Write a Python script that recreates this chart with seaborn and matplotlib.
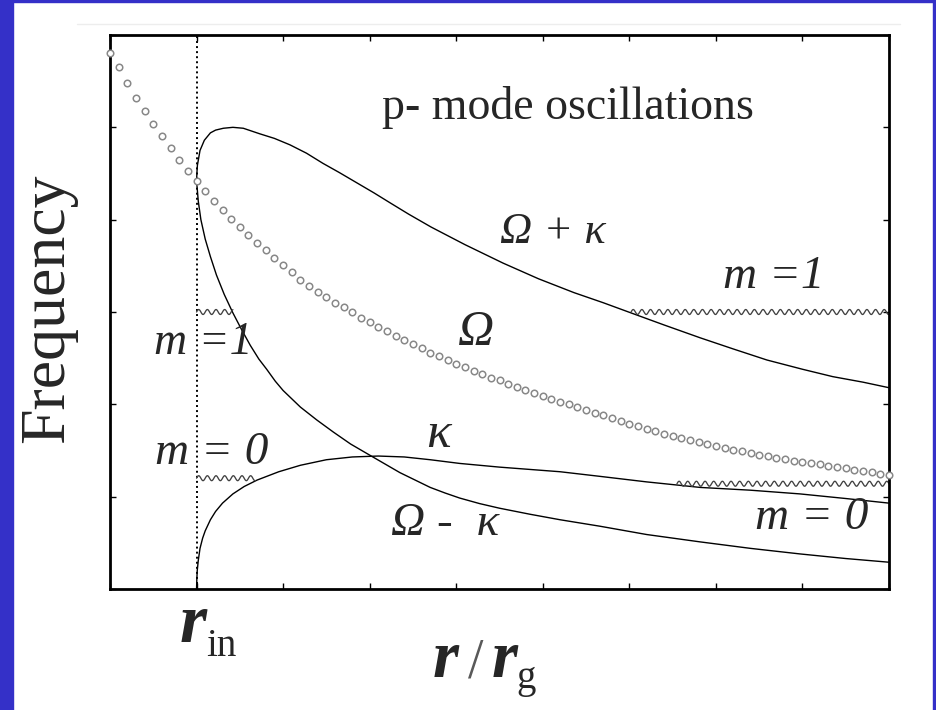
import numpy as np
import pandas as pd
import matplotlib
matplotlib.use("Agg")
import matplotlib.pyplot as plt
from matplotlib.lines import Line2D
from matplotlib.patches import Rectangle
import seaborn as sns

# ---- data (radius in units of the tick spacing, frequency in arbitrary units) ----
r_in = 1.0
x_ticks = [0, 1, 2, 3, 4, 5, 6, 7, 8, 9]
y_ticks = [0, 1, 2, 3, 4, 5, 6]

# orbital frequency Omega, one sample every 0.1 in r
omega_r = np.round(np.arange(91) * 0.1, 1)
omega = [5.80, 5.65, 5.48, 5.32, 5.18, 5.04, 4.91, 4.78, 4.65, 4.53,
         4.42, 4.31, 4.20, 4.10, 4.01, 3.92, 3.83, 3.75, 3.67, 3.59,
         3.51, 3.43, 3.35, 3.28, 3.22, 3.16, 3.10, 3.05, 3.00, 2.94,
         2.89, 2.84, 2.79, 2.74, 2.70, 2.65, 2.61, 2.56, 2.52, 2.48,
         2.44, 2.40, 2.36, 2.33, 2.29, 2.26, 2.22, 2.19, 2.16, 2.12,
         2.09, 2.06, 2.03, 2.00, 1.97, 1.94, 1.91, 1.88, 1.85, 1.82,
         1.79, 1.76, 1.73, 1.71, 1.68, 1.66, 1.63, 1.61, 1.59, 1.57,
         1.55, 1.53, 1.51, 1.49, 1.47, 1.45, 1.44, 1.42, 1.41, 1.39,
         1.38, 1.36, 1.35, 1.33, 1.32, 1.31, 1.29, 1.28, 1.27, 1.25,
         1.24]

# Omega + kappa
opk_r = [1.00, 1.005, 1.01, 1.04, 1.09, 1.16, 1.22, 1.31, 1.42, 1.54, 1.73,
         1.90, 2.08, 2.27, 2.46, 2.65, 2.85, 3.05, 3.24, 3.45, 3.71, 4.10,
         4.54, 4.95, 5.36, 5.70, 6.02, 6.40, 6.82, 7.20, 7.59, 8.00, 8.35,
         8.70, 9.00]
opk = [4.42, 4.52, 4.59, 4.75, 4.86, 4.94, 4.97, 4.99, 5.00, 4.99, 4.93,
       4.88, 4.81, 4.72, 4.61, 4.51, 4.40, 4.29, 4.18, 4.06, 3.92, 3.73,
       3.53, 3.36, 3.21, 3.10, 2.99, 2.86, 2.72, 2.60, 2.48, 2.38, 2.30,
       2.24, 2.18]

# Omega - kappa
omk_r = [1.00, 1.02, 1.05, 1.10, 1.16, 1.23, 1.32, 1.42, 1.52, 1.62, 1.72,
         1.81, 1.91, 2.00, 2.20, 2.39, 2.58, 2.78, 3.00, 3.35, 3.70, 3.87,
         4.04, 4.27, 4.50, 4.85, 5.20, 5.66, 6.20, 6.82, 7.40, 7.97, 8.50,
         9.00]
omk = [4.42, 4.20, 4.00, 3.79, 3.60, 3.40, 3.19, 2.99, 2.81, 2.64, 2.49,
       2.38, 2.25, 2.15, 1.97, 1.83, 1.70, 1.57, 1.45, 1.26, 1.10, 1.04,
       0.985, 0.925, 0.875, 0.81, 0.75, 0.68, 0.59, 0.51, 0.44, 0.38, 0.33,
       0.29]

# epicyclic frequency kappa
kap_r = [1.00, 1.003, 1.008, 1.02, 1.04, 1.07, 1.10, 1.16, 1.22, 1.30, 1.42,
         1.55, 1.70, 1.95, 2.20, 2.50, 2.80, 3.10, 3.40, 3.70, 4.04, 4.50,
         5.20, 5.66, 6.20, 6.82, 7.40, 7.97, 8.50, 9.00]
kap = [0.00, 0.10, 0.20, 0.31, 0.44, 0.55, 0.63, 0.75, 0.84, 0.93, 1.03,
       1.11, 1.18, 1.27, 1.34, 1.40, 1.43, 1.44, 1.43, 1.40, 1.36, 1.32,
       1.27, 1.22, 1.16, 1.10, 1.07, 1.03, 0.98, 0.93]

# propagation regions of the modes: (level, r_start, r_end)
m1_inner = (3.00, 1.00, 1.42)
m1_outer = (3.00, 6.02, 9.00)
m0_inner = (1.20, 1.00, 1.68)
m0_outer = (1.14, 6.55, 9.00)

curves = pd.concat([
    pd.DataFrame({"r": opk_r, "f": opk, "curve": "opk"}),
    pd.DataFrame({"r": omk_r, "f": omk, "curve": "omk"}),
    pd.DataFrame({"r": kap_r, "f": kap, "curve": "kap"}),
], ignore_index=True)
dots = pd.DataFrame({"r": omega_r, "f": omega})

# ---- figure ----
sns.set_theme(style="white")
plt.rcParams["font.family"] = ["Liberation Serif", "DejaVu Serif"]

W, H = 936, 710
fig = plt.figure(figsize=(W / 100, H / 100), dpi=100)
fig.patch.set_facecolor("white")
blue = "#3430C8"
fig.add_artist(Rectangle((0, 0), 13 / W, 1, transform=fig.transFigure, color=blue, zorder=0))
fig.add_artist(Rectangle((933 / W, 0), 3 / W, 1, transform=fig.transFigure, color=blue, zorder=0))
fig.add_artist(Rectangle((0, 1 - 1.5 / H), 1, 1.5 / H, transform=fig.transFigure, color=blue, zorder=0))
fig.add_artist(Line2D([77 / W, 900 / W], [1 - 24 / H, 1 - 24 / H], transform=fig.transFigure,
                      color="#EDEDED", lw=1))

ax = fig.add_axes([110 / W, 1 - 589 / H, (889 - 110) / W, (589 - 35) / H])
ax.set_facecolor("white")

for name in ["opk", "omk", "kap"]:
    sub = curves[curves["curve"] == name]
    sns.lineplot(data=sub, x="r", y="f", sort=False, estimator=None,
                 color="black", lw=1.0, ax=ax)

sns.scatterplot(data=dots, x="r", y="f", marker="o", s=22, facecolor="white",
                edgecolor="#888888", linewidth=1.1, ax=ax, zorder=3, clip_on=False)

ax.axvline(r_in, color="black", lw=1.4, ls=(0, (1, 1.6)))


def wavy_hline(ax, level, x0, x1, period=0.1, amp=0.027):
    """Horizontal line at `level` drawn with a small wiggle, marking a propagation zone."""
    n = int(round((x1 - x0) / period * 16)) + 1
    xs = np.linspace(x0, x1, n)
    ys = level + amp * np.sin(2 * np.pi * (xs - x0) / period)
    ax.plot(xs, ys, color="0.25", lw=0.95)


for lvl, a, b in [m1_inner, m1_outer, m0_inner, m0_outer]:
    wavy_hline(ax, lvl, a, b)

ax.set_xlim(0, 9)
ax.set_ylim(0, 6)
ax.set_xticks(x_ticks)
ax.set_yticks(y_ticks)
ax.tick_params(direction="in", length=4, width=1, color="black",
               bottom=True, top=True, left=True, right=True,
               labelbottom=False, labelleft=False)
for sp in ax.spines.values():
    sp.set_color("black")
    sp.set_linewidth(2)
ax.set_xlabel("")
ax.set_ylabel("")

# ---- annotations ----
serif = "Liberation Serif"
ax.text(5.29, 5.22, "p- mode oscillations", fontsize=33, family=serif,
        ha="center", va="center")
ax.text(5.12, 3.87, "Ω + κ", fontsize=32, family=serif, style="italic",
        ha="center", va="center")
ax.text(7.67, 3.38, "m =1", fontsize=34, family=serif, style="italic",
        ha="center", va="center")
ax.text(1.08, 2.67, "m =1", fontsize=33, family=serif, style="italic",
        ha="center", va="center")
ax.text(4.23, 2.77, "Ω", fontsize=36, family=serif, style="italic",
        ha="center", va="center")
ax.text(1.17, 1.48, "m = 0", fontsize=34, family=serif, style="italic",
        ha="center", va="center")
ax.text(3.79, 1.67, "κ", fontsize=37, family=serif, style="italic",
        ha="center", va="center")
ax.text(3.87, 0.71, "Ω -  κ", fontsize=34, family=serif, style="italic",
        ha="center", va="center")
ax.text(8.11, 0.77, "m = 0", fontsize=34, family=serif, style="italic",
        ha="center", va="center")

# axis labels
fig.text(48 / W, 1 - 308 / H, "Frequency", fontsize=46, family=serif,
         rotation=90, ha="center", va="center")
fig.text(180 / W, 1 - 642 / H, "r", fontsize=50, family=serif, style="italic",
         weight="bold", ha="left", va="baseline")
fig.text(206 / W, 1 - 656 / H, "in", fontsize=28, family=serif,
         ha="left", va="baseline")
fig.text(433 / W, 1 - 677 / H, "r", fontsize=48, family=serif, style="italic",
         weight="bold", ha="left", va="baseline")
fig.text(468 / W, 1 - 677 / H, "/", fontsize=40, family=serif, color="0.35",
         ha="left", va="baseline")
fig.text(492 / W, 1 - 677 / H, "r", fontsize=48, family=serif, style="italic",
         weight="bold", ha="left", va="baseline")
fig.text(516 / W, 1 - 688 / H, "g", fontsize=28, family=serif,
         ha="left", va="baseline")

fig.savefig("out.png", dpi=100, facecolor="white")
